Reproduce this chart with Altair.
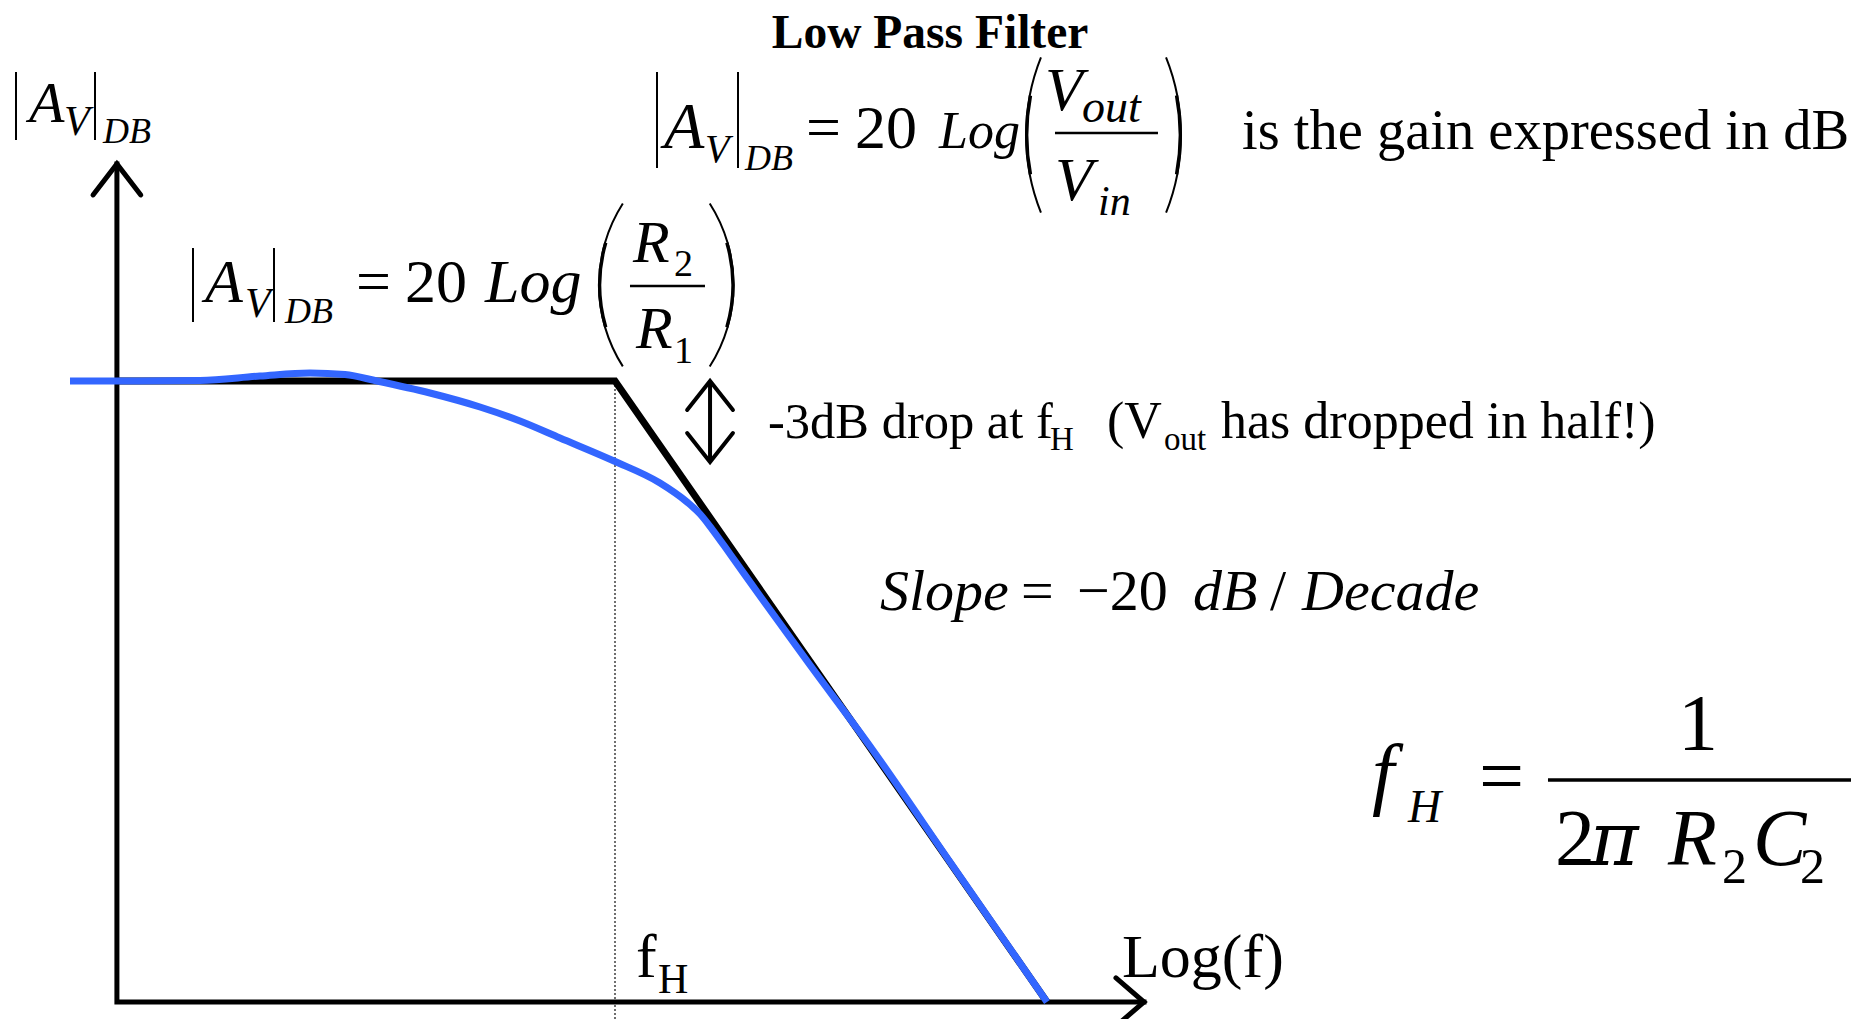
import altair as alt
import pandas as pd

# ---------------- data ----------------
# x : log-frequency in decades relative to f_H      y : gain in dB relative to the pass-band gain
asym_x = [-1.153, 0.0, 1.0]                 # straight-line (Bode) asymptote
asym_y = [0.0, 0.0, -20.0]

resp_x = [-1.2616, -1.1528, -0.9606, -0.8218, -0.7060, -0.6250, -0.5509, -0.4282, -0.3125,
          -0.2199, -0.1273, -0.0023, 0.1042, 0.1667, 0.1968, 0.2245, 0.2662, 0.3356,
          0.4514, 0.5949, 0.7755, 1.0]
resp_y = [0.0, 0.0, 0.016, 0.161, 0.258, 0.209, 0.0, -0.386, -0.837,
          -1.288, -1.836, -2.577, -3.285, -3.897, -4.283, -4.767, -5.572, -6.924,
          -9.147, -11.852, -15.491, -20.0]

frame_x = [-1.153, -1.153, 1.2245]          # the two drawn axes (up arrow, corner, right arrow)
frame_y = [6.99, -20.0, -20.0]

fH_x = [0.0]                                # corner frequency marker
drop_x = [0.22]                             # -3 dB double arrow
drop_top = [0.0]
drop_bottom = [-2.61]

X_DOMAIN = [-1.4051, 2.8727]
Y_DOMAIN = [-20.5475, 12.0129]

# formula pieces (italic)
it_text = ["A", "V", "DB",
           "A", "V", "DB", "Log", "R", "R",
           "A", "V", "DB", "Log", "V", "out", "V", "in",
           "Slope", "dB", "Decade",
           "f", "H", "R", "C"]
it_x = [-1.3565, -1.2755, -1.1852,
        -0.9491, -0.8565, -0.7639, -0.3009, 0.0417, 0.0486,
        0.1134, 0.2083, 0.3009, 0.75, 0.9954, 1.081, 1.0185, 1.1181,
        0.6134, 1.338, 1.5903,
        1.7523, 1.8356, 2.4375, 2.6343]
it_y = [8.341, 7.923, 7.665,
        2.544, 2.061, 1.868, 2.544, 3.833, 1.063,
        7.504, 7.053, 6.796, 7.504, 8.728, 8.341, 5.829, 5.346,
        -7.375, -7.375, -7.375,
        -13.494, -14.203, -15.588, -15.588]
it_size = [58, 42, 36,
           62, 42, 36, 62, 60, 60,
           66, 40, 36, 52, 62, 46, 62, 42,
           58, 58, 58,
           80, 46, 80, 80]

# the Greek letter of the f_H formula
greek_text = ["π"]
greek_x = [2.2569]
greek_y = [-15.588]
greek_size = [74]

# formula / label pieces (upright)
rg_text = ["=", "20", "2", "1",
           "=", "20", "is the gain expressed in dB",
           "-3dB drop at f", "H", "(V", "out", "has dropped in half!)",
           "=", "\u221220", "/",
           "=", "1", "2", "2", "2",
           "f", "H", "Log(f)"]
rg_x = [-0.5995, -0.4861, 0.1366, 0.1366,
        0.4421, 0.5556, 1.4514,
        0.3542, 1.0069, 1.1389, 1.2708, 1.4028,
        0.9398, 1.0694, 1.5162,
        2.0, 2.4606, 2.1759, 2.5625, 2.7431,
        0.0486, 0.0995, 1.1736]
rg_y = [2.544, 2.544, 3.382, 0.580,
        7.504, 7.504, 7.472,
        -1.836, -2.222, -1.836, -2.222, -1.836,
        -7.375, -7.375, -7.375,
        -13.591, -11.884, -15.588, -16.168, -16.168,
        -19.195, -19.710, -19.195]
rg_size = [62, 62, 38, 38,
           62, 62, 56.5,
           50.5, 33, 52, 33, 52,
           58, 58, 58,
           80, 80, 80, 50, 50,
           62, 42, 62]

title_text = ["Low Pass Filter"]
title_x = [0.7292]
title_y = [10.74]

# absolute-value bars |..|
bar_x = [-1.3866, -1.2037, -0.9769, -0.7894, 0.0972, 0.2847]
bar_y1 = [9.952, 9.952, 4.283, 4.283, 9.952, 9.952]
bar_y2 = [7.762, 7.762, 1.900, 1.900, 6.860, 6.860]

# fraction bars
frac_x1 = [1.0185, 0.0347, 2.1597]
frac_x2 = [1.2569, 0.2083, 2.8611]
frac_y = [7.987, 3.060, -12.850]
frac_w = [2.5, 2.5, 3.3]

# parentheses (centre of their circular arcs)
big_open = {"x": [1.4352], "y": [7.923]}
big_close = {"x": [0.8264], "y": [7.923]}
small_open = {"x": [0.3125], "y": [3.092]}
small_close = {"x": [-0.0750], "y": [3.092]}

# ---------------- chart ----------------
FONT = "Liberation Serif"
xs = alt.Scale(domain=X_DOMAIN, nice=False, zero=False)
ys = alt.Scale(domain=Y_DOMAIN, nice=False, zero=False)


def X(f="x"):
    return alt.X(f"{f}:Q", scale=xs, axis=None)


def Y(f="y"):
    return alt.Y(f"{f}:Q", scale=ys, axis=None)


dotted = alt.Chart(pd.DataFrame({"x": fH_x, "y": [0.0], "y2": [Y_DOMAIN[0]]})).mark_rule(
    strokeDash=[2, 2], strokeWidth=1.3, color="#222222"
).encode(x=X(), y=Y(), y2="y2:Q")

frame = alt.Chart(pd.DataFrame({"x": frame_x, "y": frame_y, "o": [0, 1, 2]})).mark_line(
    color="black", strokeWidth=5, strokeJoin="miter", strokeCap="square"
).encode(x=X(), y=Y(), order="o:Q")

up_head = alt.Chart(pd.DataFrame({"x": [frame_x[0]], "y": [frame_y[0]]})).mark_point(
    shape="M-0.77,1L0,0L0.77,1", size=3844, filled=False, stroke="black",
    strokeWidth=5, opacity=1, strokeCap="round", strokeJoin="miter"
).encode(x=X(), y=Y())

right_head = alt.Chart(pd.DataFrame({"x": [frame_x[2]], "y": [frame_y[2]]})).mark_point(
    shape="M-1,-0.86L0,0L-1,0.86", size=3136, filled=False, stroke="black",
    strokeWidth=5, opacity=1, strokeCap="round", strokeJoin="miter"
).encode(x=X(), y=Y())

asym = alt.Chart(pd.DataFrame({"x": asym_x, "y": asym_y})).mark_line(
    color="black", strokeWidth=7, strokeJoin="miter"
).encode(x=X(), y=Y())

resp = alt.Chart(pd.DataFrame({"x": resp_x, "y": resp_y})).mark_line(
    color="#3366FF", strokeWidth=7, interpolate="monotone"
).encode(x=X(), y=Y())

drop_shaft = alt.Chart(pd.DataFrame({"x": drop_x, "y": drop_top, "y2": drop_bottom})).mark_rule(
    color="black", strokeWidth=4
).encode(x=X(), y=Y(), y2="y2:Q")

drop_up = alt.Chart(pd.DataFrame({"x": drop_x, "y": drop_top})).mark_point(
    shape="M-0.79,1L0,0L0.79,1", size=3364, filled=False, stroke="black",
    strokeWidth=4, opacity=1, strokeCap="round", strokeJoin="miter"
).encode(x=X(), y=Y())

drop_down = alt.Chart(pd.DataFrame({"x": drop_x, "y": drop_bottom})).mark_point(
    shape="M-0.79,-1L0,0L0.79,-1", size=3364, filled=False, stroke="black",
    strokeWidth=4, opacity=1, strokeCap="round", strokeJoin="miter"
).encode(x=X(), y=Y())

bars = alt.Chart(pd.DataFrame({"x": bar_x, "y": bar_y1, "y2": bar_y2})).mark_rule(
    color="black", strokeWidth=2
).encode(x=X(), y=Y(), y2="y2:Q")

fracs = alt.Chart(pd.DataFrame({"x": frac_x1, "x2": frac_x2, "y": frac_y, "w": frac_w})).mark_rule(
    color="black"
).encode(x=X(), x2="x2:Q", y=Y(), strokeWidth=alt.StrokeWidth("w:Q", scale=None, legend=None))


def paren(d, radius, t0, t1):
    """A tall bracket drawn as a thin circular arc, a little heavier in its middle."""
    mid = (t0 + t1) / 2
    half = (t1 - t0) / 4
    thin = alt.Chart(pd.DataFrame(d)).mark_arc(
        color="black", radius=radius, radius2=radius - 2.0, theta=t0, theta2=t1
    ).encode(x=X(), y=Y())
    thick = alt.Chart(pd.DataFrame(d)).mark_arc(
        color="black", radius=radius, radius2=radius - 3.4, theta=mid - half, theta2=mid + half
    ).encode(x=X(), y=Y())
    return [thin, thick]


parens = (
    paren(big_open, 210, 4.332, 5.093)
    + paren(big_close, 210, 1.190, 1.951)
    + paren(small_open, 152, 4.143, 5.282)
    + paren(small_close, 152, 1.001, 2.141)
)

italic = alt.Chart(pd.DataFrame({"t": it_text, "x": it_x, "y": it_y, "s": it_size})).mark_text(
    font=FONT, fontStyle="italic", align="left", baseline="alphabetic", color="black"
).encode(x=X(), y=Y(), text="t:N", size=alt.Size("s:Q", scale=None, legend=None))

greek = alt.Chart(pd.DataFrame({"t": greek_text, "x": greek_x, "y": greek_y, "s": greek_size})).mark_text(
    font="DejaVu Serif", fontStyle="italic", align="left", baseline="alphabetic", color="black"
).encode(x=X(), y=Y(), text="t:N", size=alt.Size("s:Q", scale=None, legend=None))

regular = alt.Chart(pd.DataFrame({"t": rg_text, "x": rg_x, "y": rg_y, "s": rg_size})).mark_text(
    font=FONT, align="left", baseline="alphabetic", color="black"
).encode(x=X(), y=Y(), text="t:N", size=alt.Size("s:Q", scale=None, legend=None))

title = alt.Chart(pd.DataFrame({"t": title_text, "x": title_x, "y": title_y})).mark_text(
    font=FONT, fontWeight="bold", fontSize=47.5, align="center", baseline="alphabetic", color="black"
).encode(x=X(), y=Y(), text="t:N")

chart = alt.layer(
    dotted, frame, up_head, right_head, asym, resp, drop_shaft, drop_up, drop_down,
    bars, fracs, *parens, italic, greek, regular, title
).properties(
    width=1848, height=1011, padding=0,
    autosize=alt.AutoSizeParams(type="none"),
    background="white",
).configure_view(stroke=None)

chart.save("out.html", embed_options={"renderer": "svg", "actions": False})
